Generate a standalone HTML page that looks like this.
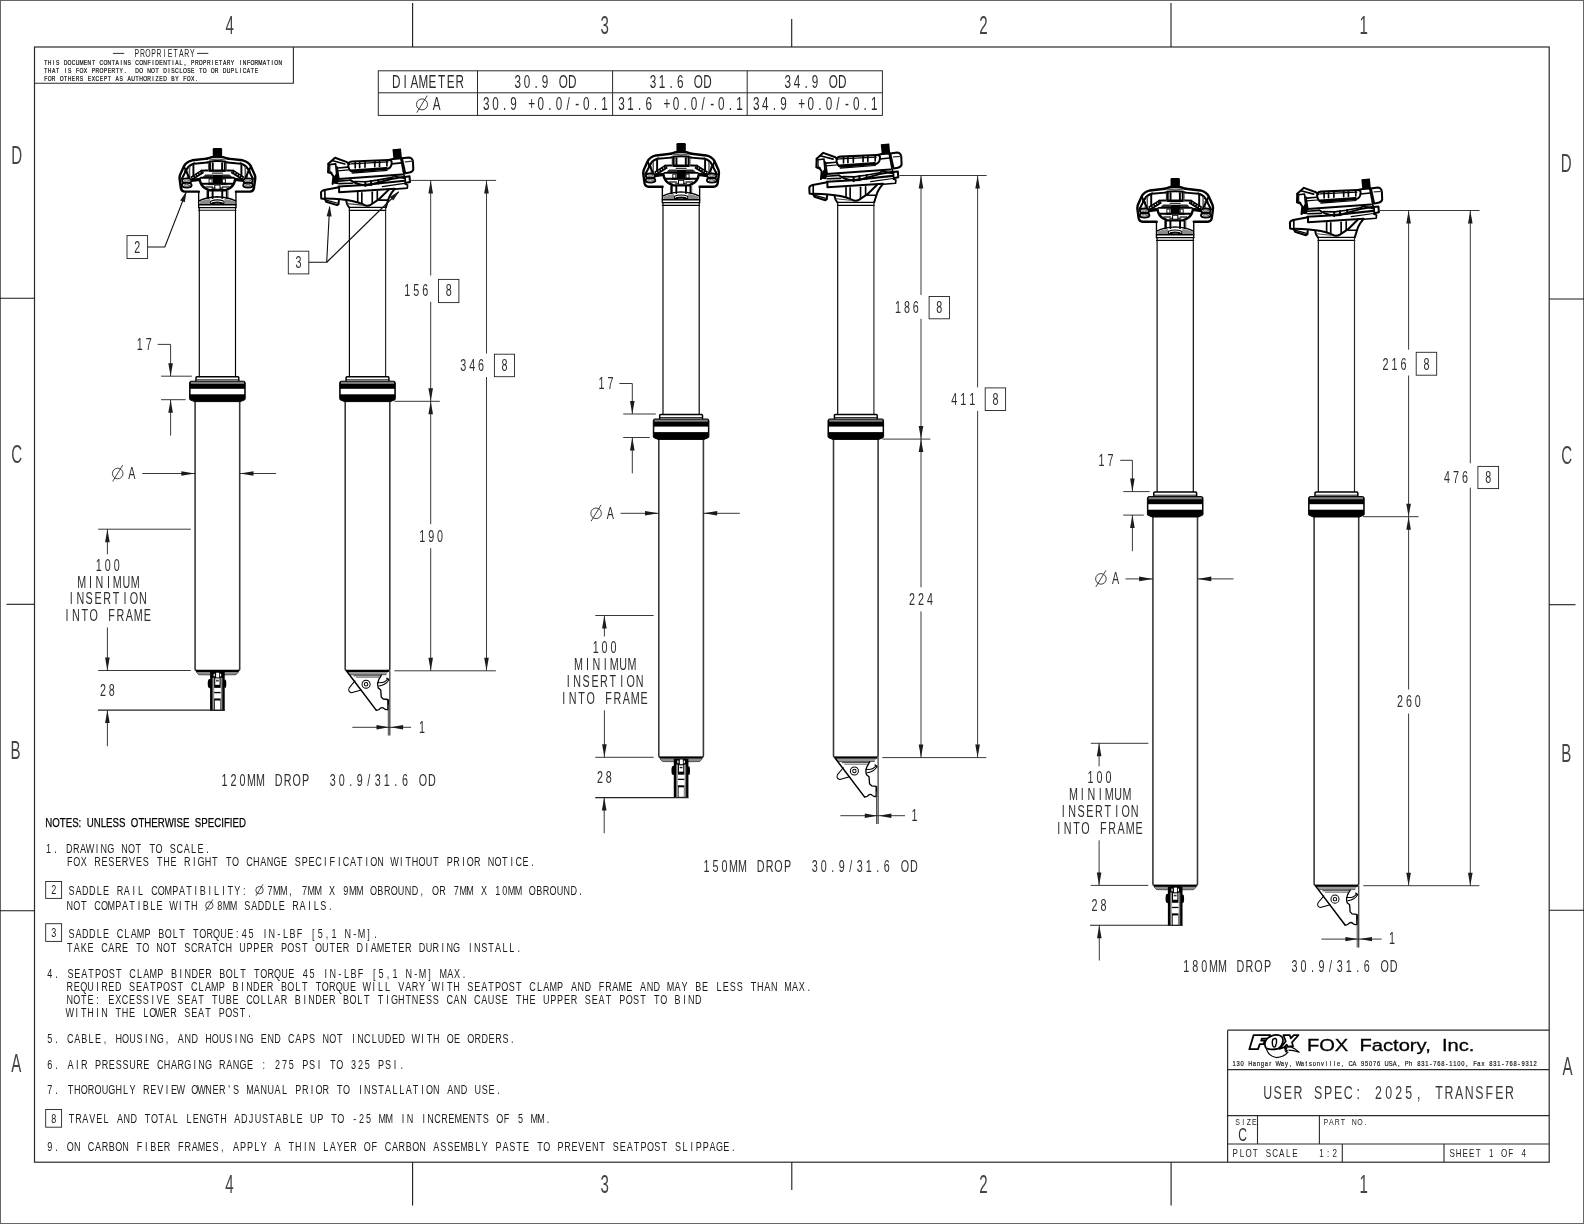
<!DOCTYPE html>
<html><head><meta charset="utf-8"><title>USER SPEC: 2025, TRANSFER</title>
<style>html,body{margin:0;padding:0;background:#fff;}svg{display:block;filter:grayscale(1);}text{font-family:"Liberation Sans",sans-serif;white-space:pre;}</style>
</head><body>
<svg width="1584" height="1224" viewBox="0 0 1584 1224">
<rect x="0" y="0" width="1584" height="1224" fill="#fff"/>
<rect x="0.5" y="0.5" width="1583" height="1223" fill="none" stroke="#666" stroke-width="1"/>
<rect x="34.5" y="47" width="1514.7" height="1115.2" fill="none" stroke="#2a2a2a" stroke-width="1.2"/>
<line x1="412.6" y1="3" x2="412.6" y2="47" stroke="#1a1a1a" stroke-width="1.1"/>
<line x1="791.7" y1="19" x2="791.7" y2="47" stroke="#1a1a1a" stroke-width="1.1"/>
<line x1="1171" y1="3" x2="1171" y2="47" stroke="#1a1a1a" stroke-width="1.1"/>
<line x1="412.6" y1="1162.2" x2="412.6" y2="1205.5" stroke="#1a1a1a" stroke-width="1.1"/>
<line x1="791.8" y1="1162.2" x2="791.8" y2="1190" stroke="#1a1a1a" stroke-width="1.1"/>
<line x1="1171.1" y1="1162.2" x2="1171.1" y2="1205.5" stroke="#1a1a1a" stroke-width="1.1"/>
<line x1="0" y1="298.2" x2="34.5" y2="298.2" stroke="#1a1a1a" stroke-width="1.1"/>
<line x1="6.5" y1="604.3" x2="34.5" y2="604.3" stroke="#1a1a1a" stroke-width="1.1"/>
<line x1="0" y1="910.8" x2="34.5" y2="910.8" stroke="#1a1a1a" stroke-width="1.1"/>
<line x1="1549.2" y1="299" x2="1584" y2="299" stroke="#1a1a1a" stroke-width="1.1"/>
<line x1="1549.2" y1="604.7" x2="1575.5" y2="604.7" stroke="#1a1a1a" stroke-width="1.1"/>
<line x1="1549.2" y1="910.3" x2="1584" y2="910.3" stroke="#1a1a1a" stroke-width="1.1"/>
<text transform="scale(0.6,1)" x="382.67" y="34.2" font-size="25.15" fill="#444" text-anchor="middle">4</text>
<text transform="scale(0.6,1)" x="1007.83" y="34.2" font-size="25.15" fill="#444" text-anchor="middle">3</text>
<text transform="scale(0.6,1)" x="1639.17" y="34.2" font-size="25.15" fill="#444" text-anchor="middle">2</text>
<text transform="scale(0.6,1)" x="2273" y="34.2" font-size="25.15" fill="#444" text-anchor="middle">1</text>
<text transform="scale(0.6,1)" x="382.5" y="1193.3" font-size="25.15" fill="#444" text-anchor="middle">4</text>
<text transform="scale(0.6,1)" x="1007.67" y="1193.3" font-size="25.15" fill="#444" text-anchor="middle">3</text>
<text transform="scale(0.6,1)" x="1639.17" y="1193.3" font-size="25.15" fill="#444" text-anchor="middle">2</text>
<text transform="scale(0.6,1)" x="2272.83" y="1192.8" font-size="25.15" fill="#444" text-anchor="middle">1</text>
<text transform="scale(0.6,1)" x="27.83" y="163.6" font-size="25.15" fill="#444" text-anchor="middle">D</text>
<text transform="scale(0.6,1)" x="27.83" y="463.4" font-size="25.15" fill="#444" text-anchor="middle">C</text>
<text transform="scale(0.6,1)" x="26" y="758.8" font-size="25.15" fill="#444" text-anchor="middle">B</text>
<text transform="scale(0.6,1)" x="27.33" y="1072.1" font-size="25.15" fill="#444" text-anchor="middle">A</text>
<text transform="scale(0.6,1)" x="2610.33" y="171.6" font-size="25.15" fill="#444" text-anchor="middle">D</text>
<text transform="scale(0.6,1)" x="2611.33" y="464.3" font-size="25.15" fill="#444" text-anchor="middle">C</text>
<text transform="scale(0.6,1)" x="2610.67" y="762.4" font-size="25.15" fill="#444" text-anchor="middle">B</text>
<text transform="scale(0.6,1)" x="2612.67" y="1074.6" font-size="25.15" fill="#444" text-anchor="middle">A</text>
<path d="M34.5,83.3 L293.4,83.3 L293.4,47.0" fill="none" stroke="#2a2a2a" stroke-width="1.1"/>
<text transform="scale(0.66,1)" x="207.35 215.76 224.17 232.58 240.98 249.39 257.8 266.21 274.62 283.03 291.44" y="56.8" font-size="10.47" fill="#222" text-anchor="middle">PROPRIETARY</text>
<line x1="112.9" y1="53.4" x2="124.2" y2="53.4" stroke="#1a1a1a" stroke-width="0.9"/>
<line x1="197" y1="53.4" x2="208.3" y2="53.4" stroke="#1a1a1a" stroke-width="0.9"/>
<text transform="scale(0.74,1)" x="61.8 67.17 72.54 77.91 83.29 88.66 94.03 99.4 104.77 110.14 115.51 120.89 126.26 131.63 137 142.37 147.74 153.12 158.49 163.86 169.23 174.6 179.97 185.35 190.72 196.09 201.46 206.83 212.2 217.58 222.95 228.32 233.69 239.06 244.43 249.81 255.18 260.55 265.92 271.29 276.66 282.04 287.41 292.78 298.15 303.52 308.89 314.26 319.64 325.01 330.38 335.75 341.12 346.49 351.87 357.24 362.61 367.98 373.35 378.72" y="64.8" font-size="6.83" fill="#111" text-anchor="middle" stroke="#111" stroke-width="0.25">THIS DOCUMENT CONTAINS CONFIDENTIAL, PROPRIETARY INFORMATION</text>
<text transform="scale(0.74,1)" x="61.8 67.17 72.54 77.91 83.29 88.66 94.03 99.4 104.77 110.14 115.51 120.89 126.26 131.63 137 142.37 147.74 153.12 158.49 163.86 169.23 174.6 179.97 185.35 190.72 196.09 201.46 206.83 212.2 217.58 222.95 228.32 233.69 239.06 244.43 249.81 255.18 260.55 265.92 271.29 276.66 282.04 287.41 292.78 298.15 303.52 308.89 314.26 319.64 325.01 330.38 335.75 341.12 346.49" y="73.3" font-size="6.83" fill="#111" text-anchor="middle" stroke="#111" stroke-width="0.25">THAT IS FOX PROPERTY.  DO NOT DISCLOSE TO OR DUPLICATE</text>
<text transform="scale(0.74,1)" x="61.8 67.17 72.54 77.91 83.29 88.66 94.03 99.4 104.77 110.14 115.51 120.89 126.26 131.63 137 142.37 147.74 153.12 158.49 163.86 169.23 174.6 179.97 185.35 190.72 196.09 201.46 206.83 212.2 217.58 222.95 228.32 233.69 239.06 244.43 249.81 255.18 260.55 265.92" y="81.5" font-size="6.83" fill="#111" text-anchor="middle" stroke="#111" stroke-width="0.25">FOR OTHERS EXCEPT AS AUTHORIZED BY FOX.</text>
<rect x="378.3" y="70.8" width="504.1" height="44.6" fill="none" stroke="#2a2a2a" stroke-width="1"/>
<line x1="378.3" y1="92.8" x2="882.4" y2="92.8" stroke="#2a2a2a" stroke-width="1"/>
<line x1="477.5" y1="70.8" x2="477.5" y2="115.4" stroke="#2a2a2a" stroke-width="1"/>
<line x1="612.6" y1="70.8" x2="612.6" y2="115.4" stroke="#2a2a2a" stroke-width="1"/>
<line x1="747.2" y1="70.8" x2="747.2" y2="115.4" stroke="#2a2a2a" stroke-width="1"/>
<text transform="scale(0.66,1)" x="600.26 614.01 627.77 641.53 655.29 669.04 682.8 696.56" y="87.6" font-size="17.73" fill="#2a2a2a" text-anchor="middle">DIAMETER</text>
<text transform="scale(0.66,1)" x="784.65 798.41 812.16 825.92 839.68 853.44 867.2" y="87.6" font-size="17.73" fill="#2a2a2a" text-anchor="middle">30.9 OD</text>
<text transform="scale(0.66,1)" x="989.35 1003.1 1016.86 1030.62 1044.38 1058.13 1071.89" y="87.6" font-size="17.73" fill="#2a2a2a" text-anchor="middle">31.6 OD</text>
<text transform="scale(0.66,1)" x="1193.74 1207.5 1221.26 1235.01 1248.77 1262.53 1276.29" y="87.6" font-size="17.73" fill="#2a2a2a" text-anchor="middle">34.9 OD</text>
<circle cx="422" cy="104.4" r="5.5" fill="none" stroke="#2a2a2a" stroke-width="0.9"/>
<line x1="416.77" y1="112.65" x2="427.23" y2="95.6" stroke="#2a2a2a" stroke-width="0.9"/>
<text transform="scale(0.66,1)" x="661.47" y="110.4" font-size="17.73" fill="#2a2a2a" text-anchor="middle">A</text>
<text transform="scale(0.66,1)" x="736.92 750.68 764.44 778.2 791.95 805.71 819.47 833.23 846.98 860.74 874.5 888.26 902.01 915.77" y="110.4" font-size="17.73" fill="#2a2a2a" text-anchor="middle">30.9 +0.0/-0.1</text>
<text transform="scale(0.66,1)" x="941.62 955.38 969.13 982.89 996.65 1010.41 1024.16 1037.92 1051.68 1065.44 1079.2 1092.95 1106.71 1120.47" y="110.4" font-size="17.73" fill="#2a2a2a" text-anchor="middle">31.6 +0.0/-0.1</text>
<text transform="scale(0.66,1)" x="1145.86 1159.62 1173.38 1187.13 1200.89 1214.65 1228.41 1242.16 1255.92 1269.68 1283.44 1297.2 1310.95 1324.71" y="110.4" font-size="17.73" fill="#2a2a2a" text-anchor="middle">34.9 +0.0/-0.1</text>
<defs>
<g id="fh" stroke-linecap="round" stroke-linejoin="round">
<g transform="translate(641,138) scale(0.050505)">
<path d="M705,290 L705,125 Q705,100 730,100 L865,100 Q890,100 890,125 L890,290 Z" fill="#000"/>
<path d="M590,312 Q700,268 797,272 Q894,268 1004,312" fill="none" stroke="#000" stroke-width="48"/>
<path d="M600,385 Q797,335 994,385" fill="none" stroke="#000" stroke-width="38"/>
<path d="M640,340 Q797,300 954,340" fill="none" stroke="#555" stroke-width="26"/>
<path d="M590,312 L300,345 Q180,370 130,470 L55,640 Q40,690 55,760 L75,900 Q90,962 150,965 L430,965" fill="none" stroke="#000" stroke-width="48"/>
<path d="M1004,312 L1294,345 Q1414,370 1464,470 L1539,640 Q1554,690 1539,760 L1519,900 Q1504,962 1444,965 L1164,965" fill="none" stroke="#000" stroke-width="48"/>
<path d="M600,388 L335,412 Q235,432 195,510 L105,690" fill="none" stroke="#000" stroke-width="38"/>
<path d="M994,388 L1259,412 Q1359,432 1399,510 L1489,690" fill="none" stroke="#000" stroke-width="38"/>
<path d="M340,395 Q250,450 150,560" fill="none" stroke="#000" stroke-width="26"/>
<path d="M1254,395 Q1344,450 1444,560" fill="none" stroke="#000" stroke-width="26"/>
<path d="M245,480 L245,690" fill="none" stroke="#555" stroke-width="30"/>
<path d="M1349,480 L1349,690" fill="none" stroke="#555" stroke-width="30"/>
<path d="M205,560 L205,690" fill="none" stroke="#666" stroke-width="26"/>
<path d="M1389,560 L1389,690" fill="none" stroke="#666" stroke-width="26"/>
<path d="M322,440 L322,690" fill="none" stroke="#000" stroke-width="38"/>
<path d="M1272,440 L1272,690" fill="none" stroke="#000" stroke-width="38"/>
<path d="M135,470 L245,700" fill="none" stroke="#000" stroke-width="38"/>
<path d="M1459,470 L1349,700" fill="none" stroke="#000" stroke-width="38"/>
<path d="M205,500 L80,720" fill="none" stroke="#000" stroke-width="26"/>
<path d="M1389,500 L1514,720" fill="none" stroke="#000" stroke-width="26"/>
<ellipse cx="190" cy="748" rx="92" ry="46" fill="#fff" stroke="#000" stroke-width="38"/>
<ellipse cx="190" cy="838" rx="96" ry="46" fill="#fff" stroke="#000" stroke-width="38"/>
<ellipse cx="190" cy="748" rx="52" ry="16" fill="none" stroke="#444" stroke-width="16"/>
<ellipse cx="190" cy="838" rx="56" ry="16" fill="none" stroke="#444" stroke-width="16"/>
<ellipse cx="1404" cy="748" rx="92" ry="46" fill="#fff" stroke="#000" stroke-width="38"/>
<ellipse cx="1404" cy="838" rx="96" ry="46" fill="#fff" stroke="#000" stroke-width="38"/>
<ellipse cx="1404" cy="748" rx="52" ry="16" fill="none" stroke="#444" stroke-width="16"/>
<ellipse cx="1404" cy="838" rx="56" ry="16" fill="none" stroke="#444" stroke-width="16"/>
<path d="M500,680 L560,625 L705,625 L705,680 Z" fill="#2a2a2a"/>
<path d="M1094,680 L1034,625 L889,625 L889,680 Z" fill="#2a2a2a"/>
<rect x="560" y="850" width="150" height="42" fill="#666"/>
<rect x="885" y="850" width="150" height="42" fill="#666"/>
<path d="M285,705 L510,562" fill="none" stroke="#000" stroke-width="86" stroke-linecap="butt"/>
<path d="M1309,705 L1084,562" fill="none" stroke="#000" stroke-width="86" stroke-linecap="butt"/>
<path d="M305,688 L500,565" fill="none" stroke="#fff" stroke-width="20" stroke-dasharray="22 32" stroke-linecap="butt"/>
<path d="M1289,688 L1094,565" fill="none" stroke="#fff" stroke-width="20" stroke-dasharray="22 32" stroke-linecap="butt"/>
<path d="M480,550 Q520,545 560,545 L1034,545 Q1074,545 1114,550" fill="none" stroke="#000" stroke-width="38"/>
<path d="M275,742 L460,722" fill="none" stroke="#000" stroke-width="66" stroke-linecap="butt"/>
<path d="M1319,742 L1134,722" fill="none" stroke="#000" stroke-width="66" stroke-linecap="butt"/>
<path d="M445,715 Q465,850 560,900 L640,938 L954,938 L1034,900 Q1129,850 1149,715" fill="none" stroke="#000" stroke-width="48"/>
<path d="M470,690 L1124,690" fill="none" stroke="#000" stroke-width="38"/>
<path d="M700,630 L895,630 L885,800 L712,800 Z" fill="#000"/>
<rect x="640" y="715" width="52" height="80" fill="#fff" stroke="#000" stroke-width="18"/>
<rect x="903" y="715" width="52" height="80" fill="#fff" stroke="#000" stroke-width="18"/>
<path d="M475,808 L1120,808" fill="none" stroke="#000" stroke-width="38"/>
<path d="M620,812 L720,812" fill="none" stroke="#000" stroke-width="30"/>
<path d="M875,812 L975,812" fill="none" stroke="#000" stroke-width="30"/>
<rect x="745" y="835" width="105" height="82" fill="#fff" stroke="#000" stroke-width="20"/>
<path d="M690,895 L745,895" fill="none" stroke="#000" stroke-width="22"/>
<path d="M850,895 L905,895" fill="none" stroke="#000" stroke-width="22"/>
<path d="M625,400 L625,545" fill="none" stroke="#444" stroke-width="26"/>
<path d="M650,400 L650,545" fill="none" stroke="#000" stroke-width="38"/>
<path d="M705,400 L705,545" fill="none" stroke="#000" stroke-width="38"/>
<path d="M890,400 L890,545" fill="none" stroke="#000" stroke-width="38"/>
<path d="M945,400 L945,545" fill="none" stroke="#000" stroke-width="38"/>
<path d="M970,400 L970,545" fill="none" stroke="#444" stroke-width="26"/>
<path d="M650,560 L945,560" fill="none" stroke="#000" stroke-width="26"/>
<path d="M700,600 L895,600" fill="none" stroke="#333" stroke-width="26"/>
<path d="M590,945 L590,1090" fill="none" stroke="#666" stroke-width="26"/>
<path d="M612,945 L612,1090" fill="none" stroke="#000" stroke-width="38"/>
<path d="M702,945 L702,1090" fill="none" stroke="#000" stroke-width="38"/>
<path d="M893,945 L893,1090" fill="none" stroke="#000" stroke-width="38"/>
<path d="M983,945 L983,1090" fill="none" stroke="#000" stroke-width="38"/>
<path d="M1005,945 L1005,1090" fill="none" stroke="#666" stroke-width="26"/>
</g>
<g transform="translate(621,130) scale(0.0757576)">
<path d="M548,755 L548,960" fill="none" stroke="#000" stroke-width="18"/>
<path d="M1040,755 L1040,960" fill="none" stroke="#000" stroke-width="18"/>
<path d="M552,872 Q650,822 794,816 Q938,822 1036,872" fill="none" stroke="#000" stroke-width="18"/>
<path d="M560,880 Q640,850 700,845 L700,915 L560,915 Z" fill="#8a8a8a"/>
<path d="M1028,880 Q948,850 888,845 L888,915 L1028,915 Z" fill="#8a8a8a"/>
<path d="M706,905 L706,875 Q794,840 882,875 L882,905 Z" fill="#fff" stroke="#000" stroke-width="14"/>
<ellipse cx="794" cy="898" rx="72" ry="20" fill="#000"/>
<ellipse cx="794" cy="901" rx="40" ry="7" fill="#555"/>
<path d="M548,922 L1040,922" fill="none" stroke="#000" stroke-width="20"/>
<path d="M548,960 L1040,960" fill="none" stroke="#000" stroke-width="16"/>
<path d="M548,995 L1040,995" fill="none" stroke="#000" stroke-width="14"/>
</g>
</g>
<g id="sh" stroke-linecap="round" stroke-linejoin="round">
<g transform="translate(805,138) scale(0.0631313)">
<path d="M1200,100 L1335,88 L1350,245 L1215,255 Z" fill="#000"/>
<path d="M185,330 L290,235 L470,300 L520,335" fill="none" stroke="#000" stroke-width="32"/>
<path d="M240,280 L445,335" fill="none" stroke="#000" stroke-width="26"/>
<path d="M185,330 L180,465 L232,482 L265,530 L252,650" fill="none" stroke="#000" stroke-width="32"/>
<path d="M207,345 L300,332 L322,560" fill="none" stroke="#000" stroke-width="26"/>
<path d="M207,345 L207,452 L240,470" fill="none" stroke="#000" stroke-width="19"/>
<path d="M255,565 L318,470 L347,520 L352,600 L332,655 L258,645 Z" fill="#000"/>
<path d="M500,365 Q490,300 560,295 L1140,270 Q1197,268 1187,330 Q1177,400 1120,410 L590,456 Q515,462 500,365 Z" fill="none" stroke="#000" stroke-width="32"/>
<path d="M545,332 L1130,302" fill="none" stroke="#000" stroke-width="19"/>
<path d="M610,304 L610,396" fill="none" stroke="#000" stroke-width="26"/>
<path d="M680,300 L680,392" fill="none" stroke="#000" stroke-width="26"/>
<path d="M765,296 L765,386" fill="none" stroke="#000" stroke-width="26"/>
<path d="M920,290 L920,376" fill="none" stroke="#000" stroke-width="26"/>
<path d="M995,286 L995,372" fill="none" stroke="#000" stroke-width="26"/>
<path d="M1112,284 L1112,366" fill="none" stroke="#000" stroke-width="26"/>
<path d="M540,438 L1105,398" fill="none" stroke="#000" stroke-width="34"/>
<path d="M560,478 L1115,436" fill="none" stroke="#000" stroke-width="19"/>
<path d="M1140,270 L1205,256" fill="none" stroke="#000" stroke-width="32"/>
<path d="M1215,255 L1350,245 L1462,230 Q1520,238 1525,300 L1530,420 Q1522,460 1470,470 L1405,482" fill="none" stroke="#000" stroke-width="32"/>
<path d="M1350,245 L1402,480" fill="none" stroke="#000" stroke-width="32"/>
<path d="M1335,255 L1385,525" fill="none" stroke="#000" stroke-width="26"/>
<path d="M1187,332 L1342,316" fill="none" stroke="#000" stroke-width="26"/>
<path d="M1402,300 L1522,290" fill="none" stroke="#333" stroke-width="19"/>
<path d="M345,572 L1352,500" fill="none" stroke="#000" stroke-width="32"/>
<path d="M322,380 L352,572" fill="none" stroke="#000" stroke-width="26"/>
<path d="M335,398 L490,384" fill="none" stroke="#000" stroke-width="26"/>
<path d="M330,442 L505,428" fill="none" stroke="#000" stroke-width="19"/>
<path d="M1200,520 L1385,560" fill="none" stroke="#000" stroke-width="26"/>
<path d="M350,606 L525,592" fill="none" stroke="#000" stroke-width="26"/>
<path d="M535,590 Q690,702 880,656 L1180,572 L1392,536" fill="none" stroke="#000" stroke-width="32"/>
<path d="M600,612 L780,616 L960,590 L1205,546" fill="none" stroke="#000" stroke-width="26"/>
<path d="M770,616 L770,684" fill="none" stroke="#000" stroke-width="32"/>
<path d="M862,604 L862,668" fill="none" stroke="#000" stroke-width="32"/>
<path d="M975,588 L975,644" fill="none" stroke="#000" stroke-width="32"/>
<path d="M350,646 L565,640" fill="none" stroke="#000" stroke-width="26"/>
<path d="M345,692 L700,672 L1392,600" fill="none" stroke="#000" stroke-width="32"/>
<path d="M355,700 L355,780 L1235,726" fill="none" stroke="#000" stroke-width="32"/>
<path d="M1040,692 L1392,642" fill="none" stroke="#000" stroke-width="19"/>
<path d="M1392,540 L1470,530 L1478,620 L1402,636" fill="none" stroke="#000" stroke-width="32"/>
<path d="M1400,540 L1408,652" fill="none" stroke="#000" stroke-width="26"/>
<path d="M1402,652 L1440,666 L1435,716 L1240,732" fill="none" stroke="#000" stroke-width="26"/>
<path d="M335,705 L120,745 Q70,760 68,790 L72,880 L130,890" fill="none" stroke="#000" stroke-width="32"/>
<path d="M130,752 L130,890" fill="none" stroke="#000" stroke-width="26"/>
<path d="M130,890 L150,932 L322,986 L346,970 L350,916" fill="none" stroke="#000" stroke-width="32"/>
<path d="M150,906 L332,956" fill="none" stroke="#000" stroke-width="19"/>
<path d="M130,882 Q400,890 560,920 Q660,940 740,976 Q800,1012 860,976 L990,890 L1142,740" fill="none" stroke="#000" stroke-width="32"/>
<path d="M650,786 L650,936" fill="none" stroke="#000" stroke-width="26"/>
<path d="M715,790 L715,962" fill="none" stroke="#000" stroke-width="26"/>
<path d="M880,780 L880,958" fill="none" stroke="#000" stroke-width="26"/>
<path d="M960,772 L960,895" fill="none" stroke="#000" stroke-width="26"/>
<path d="M1232,732 Q1150,830 1130,910 Q1112,965 1095,1022" fill="none" stroke="#000" stroke-width="32"/>
<path d="M990,906 L1130,906" fill="none" stroke="#000" stroke-width="26"/>
<path d="M470,930 Q480,992 515,1022" fill="none" stroke="#000" stroke-width="32"/>
<path d="M490,962 L720,986" fill="none" stroke="#444" stroke-width="19"/>
<path d="M515,1020 L1095,1020" fill="none" stroke="#000" stroke-width="20"/>
<path d="M515,1068 L1095,1068" fill="none" stroke="#000" stroke-width="18"/>
</g>
</g>
<g id="col">
<path d="M-21.4,5 L-21.4,1.3 Q-21.4,0.3 -20.4,0.3 L20.4,0.3 Q21.4,0.3 21.4,1.3 L21.4,5" fill="#fff" stroke="#000" stroke-width="1.5"/>
<line x1="-21" y1="3.4" x2="21" y2="3.4" stroke="#000" stroke-width="0.9"/>
<path d="M-27.8,6.5 Q-27.8,4.8 -26.3,4.8 L26.3,4.8 Q27.8,4.8 27.8,6.5 L27.8,22.4 Q27.8,23.6 26.6,23.7 L23,25.2 L-23,25.2 L-26.6,23.7 Q-27.8,23.6 -27.8,22.4 Z" fill="#000" stroke="#000" stroke-width="1.0"/>
<rect x="-26.6" y="5.4" width="53.2" height="2.1" fill="#808080"/>
<rect x="-26.8" y="12.4" width="53.6" height="5.5" fill="#fff"/>
</g>
<g id="af"><g transform="scale(0.050505) translate(-800,-310)">
<path d="M385,335 L690,335 L690,392 L432,388 Z" fill="#8c8c8c"/>
<path d="M1215,335 L910,335 L910,392 L1168,388 Z" fill="#8c8c8c"/>
<path d="M380,335 L432,390 L690,394" fill="none" stroke="#222" stroke-width="14"/>
<path d="M1220,335 L1168,390 L910,394" fill="none" stroke="#222" stroke-width="14"/>
<rect x="655" y="335" width="290" height="770" fill="#000"/>
<rect x="700" y="450" width="24" height="645" fill="#777"/>
<rect x="876" y="450" width="24" height="645" fill="#777"/>
<rect x="724" y="450" width="11" height="645" fill="#fff"/>
<rect x="865" y="450" width="11" height="645" fill="#fff"/>
<rect x="775" y="350" width="60" height="92" fill="#fff"/>
<ellipse cx="737" cy="395" rx="13" ry="32" fill="#fff"/>
<ellipse cx="863" cy="395" rx="13" ry="32" fill="#fff"/>
<rect x="757" y="462" width="86" height="128" fill="#fff"/>
<rect x="772" y="500" width="56" height="22" fill="#000"/>
<rect x="772" y="462" width="56" height="22" fill="#999"/>
<rect x="735" y="650" width="135" height="80" fill="#fff"/>
<rect x="735" y="756" width="135" height="104" fill="#fff"/>
<rect x="750" y="900" width="105" height="188" fill="#fff"/>
<ellipse cx="645" cy="565" rx="36" ry="92" fill="#000"/>
<ellipse cx="952" cy="570" rx="24" ry="86" fill="#000"/>
</g></g>
<g id="as" stroke-linecap="round" stroke-linejoin="round"><g transform="scale(0.050505) translate(-738,-310)">
<path d="M330,335 L1145,335 L1105,388 L395,388 Z" fill="#999"/>
<path d="M395,390 L1105,390" fill="none" stroke="#333" stroke-width="14"/>
<path d="M470,412 L992,412" fill="none" stroke="#000" stroke-width="16"/>
<path d="M520,442 L962,442" fill="none" stroke="#777" stroke-width="20"/>
<path d="M335,330 L910,1090" fill="none" stroke="#000" stroke-width="30"/>
<path d="M910,1090 Q960,1098 990,1055 Q1030,1025 1065,1060 Q1100,1092 1140,1078" fill="none" stroke="#000" stroke-width="26"/>
<rect x="1128" y="880" width="36" height="212" fill="#000"/>
<path d="M1140,880 L1050,870 L1010,830 L1000,690 L950,650 Q922,570 960,490 L1012,398" fill="none" stroke="#000" stroke-width="26"/>
<circle cx="710" cy="578" r="80" fill="none" stroke="#000" stroke-width="20"/>
<circle cx="710" cy="578" r="34" fill="none" stroke="#000" stroke-width="20"/>
<path d="M490,512 L375,650 Q345,725 420,745 L615,690" fill="none" stroke="#000" stroke-width="20"/>
<path d="M940,545 Q1085,562 1140,470" fill="none" stroke="#000" stroke-width="20"/>
<path d="M965,612 Q1100,592 1157,492" fill="none" stroke="#000" stroke-width="20"/>
<path d="M1120,458 L1162,490" fill="none" stroke="#000" stroke-width="26"/>
</g></g>
</defs>
<use href="#fh" x="-463.85" y="4.9"/>
<use href="#sh" x="-488.3" y="4.9"/>
<line x1="199.3" y1="207.4" x2="199.3" y2="376.9" stroke="#000" stroke-width="1.15"/>
<line x1="235.5" y1="207.4" x2="235.5" y2="376.9" stroke="#000" stroke-width="1.15"/>
<path d="M195.1,400.9 L195.1,668.7 Q195.1,670.7 197.1,670.7 L237.7,670.7 Q239.7,670.7 239.7,668.7 L239.7,400.9" fill="none" stroke="#3a3a3a" stroke-width="1.6"/>
<line x1="196.1" y1="670.9" x2="238.7" y2="670.9" stroke="#000" stroke-width="2.2"/>
<use href="#col" x="217.4" y="376.4"/>
<use href="#af" x="217.4" y="670.7"/>
<line x1="349.4" y1="207.4" x2="349.4" y2="376.9" stroke="#000" stroke-width="1.15"/>
<line x1="385.6" y1="207.4" x2="385.6" y2="376.9" stroke="#222" stroke-width="1.15"/>
<path d="M345.2,400.9 L345.2,668.7 Q345.2,670.7 347.2,670.7 L387.8,670.7 Q389.8,670.7 389.8,668.7 L389.8,400.9" fill="none" stroke="#3a3a3a" stroke-width="1.6"/>
<line x1="346.2" y1="670.9" x2="388.8" y2="670.9" stroke="#000" stroke-width="2.2"/>
<use href="#col" x="367.5" y="376.4"/>
<use href="#as" x="367.5" y="670.7"/>
<text transform="scale(0.66,1)" x="211.8 225.33" y="350.5" font-size="16.28" fill="#2e2e2e" text-anchor="middle">17</text>
<path d="M157.7,344.4 L170.6,344.4 L170.6,376.2" fill="none" stroke="#222" stroke-width="0.9"/>
<polygon points="170.6,376.2 168.3,363.2 172.9,363.2" fill="#1a1a1a" stroke="none" stroke-width="0"/>
<line x1="161.1" y1="376.2" x2="191.9" y2="376.2" stroke="#222" stroke-width="0.9"/>
<line x1="161.1" y1="399.7" x2="185.6" y2="399.7" stroke="#222" stroke-width="0.9"/>
<polygon points="170.6,399.7 168.3,412.7 172.9,412.7" fill="#1a1a1a" stroke="none" stroke-width="0"/>
<line x1="170.6" y1="399.7" x2="170.6" y2="435.6" stroke="#222" stroke-width="0.9"/>
<circle cx="117.7" cy="473.5" r="5.3" fill="none" stroke="#2e2e2e" stroke-width="0.9"/>
<line x1="112.67" y1="481.45" x2="122.73" y2="465.02" stroke="#2e2e2e" stroke-width="0.9"/>
<text transform="scale(0.66,1)" x="199.72" y="478.9" font-size="16.28" fill="#2e2e2e" text-anchor="middle">A</text>
<line x1="142.3" y1="473.5" x2="195.1" y2="473.5" stroke="#222" stroke-width="0.9"/>
<polygon points="194.8,473.5 181.3,471.2 181.3,475.8" fill="#1a1a1a" stroke="none" stroke-width="0"/>
<line x1="239.7" y1="473.5" x2="276" y2="473.5" stroke="#222" stroke-width="0.9"/>
<polygon points="240,473.5 253.5,471.2 253.5,475.8" fill="#1a1a1a" stroke="none" stroke-width="0"/>
<line x1="98.2" y1="529.2" x2="190.8" y2="529.2" stroke="#222" stroke-width="0.9"/>
<line x1="98.2" y1="670.5" x2="190.8" y2="670.5" stroke="#222" stroke-width="0.9"/>
<polygon points="107.4,529.2 105.1,542.2 109.7,542.2" fill="#1a1a1a" stroke="none" stroke-width="0"/>
<line x1="107.4" y1="529.2" x2="107.4" y2="554.2" stroke="#222" stroke-width="0.9"/>
<polygon points="107.4,670.5 105.1,657.5 109.7,657.5" fill="#1a1a1a" stroke="none" stroke-width="0"/>
<line x1="107.4" y1="627.5" x2="107.4" y2="670.5" stroke="#222" stroke-width="0.9"/>
<text transform="scale(0.66,1)" x="149.63 163.16 176.69" y="571.2" font-size="16.28" fill="#2e2e2e" text-anchor="middle">100</text>
<text transform="scale(0.66,1)" x="123.65 137.18 150.71 164.24 177.77 191.3 204.83" y="587.9" font-size="16.28" fill="#2e2e2e" text-anchor="middle">MINIMUM</text>
<text transform="scale(0.66,1)" x="108.09 121.62 135.15 148.68 162.21 175.74 189.27 202.8 216.33" y="604.5" font-size="16.28" fill="#2e2e2e" text-anchor="middle">INSERTION</text>
<text transform="scale(0.66,1)" x="101.33 114.86 128.39 141.92 155.45 168.98 182.51 196.04 209.57 223.1" y="621.2" font-size="16.28" fill="#2e2e2e" text-anchor="middle">INTO FRAME</text>
<text transform="scale(0.66,1)" x="155.93 169.46" y="696.5" font-size="16.28" fill="#2e2e2e" text-anchor="middle">28</text>
<line x1="98" y1="710.1" x2="224.8" y2="710.1" stroke="#222" stroke-width="1.1"/>
<polygon points="107.4,710.1 105.1,723.1 109.7,723.1" fill="#1a1a1a" stroke="none" stroke-width="0"/>
<line x1="107.4" y1="710.1" x2="107.4" y2="746.2" stroke="#222" stroke-width="0.9"/>
<line x1="409.2" y1="180.4" x2="496.1" y2="180.4" stroke="#222" stroke-width="0.9"/>
<line x1="394.4" y1="401.3" x2="439.8" y2="401.3" stroke="#222" stroke-width="0.9"/>
<line x1="394.4" y1="670.8" x2="495.9" y2="670.8" stroke="#222" stroke-width="0.9"/>
<polygon points="430.7,180.4 428.4,193.4 433,193.4" fill="#1a1a1a" stroke="none" stroke-width="0"/>
<polygon points="430.7,401.3 428.4,388.3 433,388.3" fill="#1a1a1a" stroke="none" stroke-width="0"/>
<polygon points="430.7,401.3 428.4,414.3 433,414.3" fill="#1a1a1a" stroke="none" stroke-width="0"/>
<polygon points="430.7,670.8 428.4,657.8 433,657.8" fill="#1a1a1a" stroke="none" stroke-width="0"/>
<line x1="430.7" y1="180.4" x2="430.7" y2="275.5" stroke="#222" stroke-width="0.9"/>
<line x1="430.7" y1="301.8" x2="430.7" y2="401.3" stroke="#222" stroke-width="0.9"/>
<line x1="430.7" y1="401.3" x2="430.7" y2="524.2" stroke="#222" stroke-width="0.9"/>
<line x1="430.7" y1="548.2" x2="430.7" y2="670.7" stroke="#222" stroke-width="0.9"/>
<polygon points="486.5,180.4 484.2,193.4 488.8,193.4" fill="#1a1a1a" stroke="none" stroke-width="0"/>
<polygon points="486.5,670.8 484.2,657.8 488.8,657.8" fill="#1a1a1a" stroke="none" stroke-width="0"/>
<line x1="486.5" y1="180.4" x2="486.5" y2="353.5" stroke="#222" stroke-width="0.9"/>
<line x1="486.5" y1="377" x2="486.5" y2="670.7" stroke="#222" stroke-width="0.9"/>
<text transform="scale(0.66,1)" x="617.1 630.63 644.16" y="296.5" font-size="16.28" fill="#2e2e2e" text-anchor="middle">156</text>
<rect x="438.5" y="279.4" width="20.4" height="23.2" fill="none" stroke="#222" stroke-width="0.9"/>
<text transform="scale(0.66,1)" x="679.85" y="296.5" font-size="16.28" fill="#2e2e2e" text-anchor="middle">8</text>
<text transform="scale(0.66,1)" x="701.84 715.37 728.9" y="371.2" font-size="16.28" fill="#2e2e2e" text-anchor="middle">346</text>
<rect x="494.4" y="354.2" width="20.1" height="22.5" fill="none" stroke="#222" stroke-width="0.9"/>
<text transform="scale(0.66,1)" x="764.32" y="371.2" font-size="16.28" fill="#2e2e2e" text-anchor="middle">8</text>
<text transform="scale(0.66,1)" x="639.78 653.31 666.84" y="541.7" font-size="16.28" fill="#2e2e2e" text-anchor="middle">190</text>
<line x1="389.8" y1="670.7" x2="389.8" y2="735.6" stroke="#444" stroke-width="1.3"/>
<line x1="388.3" y1="704.7" x2="388.3" y2="735.6" stroke="#444" stroke-width="1"/>
<line x1="352.3" y1="727.3" x2="411.1" y2="727.3" stroke="#222" stroke-width="0.9"/>
<polygon points="389,727.3 376.5,725.1 376.5,729.5" fill="#1a1a1a" stroke="none" stroke-width="0"/>
<polygon points="390.6,727.3 403.1,725.1 403.1,729.5" fill="#1a1a1a" stroke="none" stroke-width="0"/>
<text transform="scale(0.66,1)" x="639.24" y="732.8" font-size="16.28" fill="#2e2e2e" text-anchor="middle">1</text>
<text transform="scale(0.66,1)" x="340.16 353.82 367.49 381.16 394.82 408.49 422.16 435.82 449.49 463.16 476.82 490.49 504.16 517.82 531.49 545.16 558.82 572.49 586.16 599.82 613.49 627.16 640.82 654.49" y="786.1" font-size="16.28" fill="#2e2e2e" text-anchor="middle">120MM DROP  30.9/31.6 OD</text>
<use href="#fh" x="-0.15" y="0"/>
<use href="#sh" x="0" y="0"/>
<line x1="663" y1="202.5" x2="663" y2="414.7" stroke="#000" stroke-width="1.15"/>
<line x1="699.2" y1="202.5" x2="699.2" y2="414.7" stroke="#000" stroke-width="1.15"/>
<path d="M658.8,438.7 L658.8,755.5 Q658.8,757.5 660.8,757.5 L701.4,757.5 Q703.4,757.5 703.4,755.5 L703.4,438.7" fill="none" stroke="#3a3a3a" stroke-width="1.6"/>
<line x1="659.8" y1="757.7" x2="702.4" y2="757.7" stroke="#000" stroke-width="2.2"/>
<use href="#col" x="681.1" y="414.2"/>
<use href="#af" x="681.1" y="757.5"/>
<line x1="837.7" y1="202.5" x2="837.7" y2="414.7" stroke="#000" stroke-width="1.15"/>
<line x1="873.9" y1="202.5" x2="873.9" y2="414.7" stroke="#222" stroke-width="1.15"/>
<path d="M833.5,438.7 L833.5,755.5 Q833.5,757.5 835.5,757.5 L876.1,757.5 Q878.1,757.5 878.1,755.5 L878.1,438.7" fill="none" stroke="#3a3a3a" stroke-width="1.6"/>
<line x1="834.5" y1="757.7" x2="877.1" y2="757.7" stroke="#000" stroke-width="2.2"/>
<use href="#col" x="855.8" y="414.2"/>
<use href="#as" x="855.8" y="757.5"/>
<text transform="scale(0.66,1)" x="911.34 924.87" y="389.5" font-size="16.28" fill="#2e2e2e" text-anchor="middle">17</text>
<path d="M619.4,383.5 L632.3,383.5 L632.3,414" fill="none" stroke="#222" stroke-width="0.9"/>
<polygon points="632.3,414 630,401 634.6,401" fill="#1a1a1a" stroke="none" stroke-width="0"/>
<line x1="623.2" y1="414" x2="655.8" y2="414" stroke="#222" stroke-width="0.9"/>
<line x1="623.2" y1="437.5" x2="649.7" y2="437.5" stroke="#222" stroke-width="0.9"/>
<polygon points="632.3,437.5 630,450.5 634.6,450.5" fill="#1a1a1a" stroke="none" stroke-width="0"/>
<line x1="632.3" y1="437.5" x2="632.3" y2="473.3" stroke="#222" stroke-width="0.9"/>
<circle cx="596.1" cy="513.3" r="5.3" fill="none" stroke="#2e2e2e" stroke-width="0.9"/>
<line x1="591.07" y1="521.25" x2="601.13" y2="504.82" stroke="#2e2e2e" stroke-width="0.9"/>
<text transform="scale(0.66,1)" x="924.57" y="518.7" font-size="16.28" fill="#2e2e2e" text-anchor="middle">A</text>
<line x1="620.6" y1="513.3" x2="658.8" y2="513.3" stroke="#222" stroke-width="0.9"/>
<polygon points="658.5,513.3 645,511 645,515.6" fill="#1a1a1a" stroke="none" stroke-width="0"/>
<line x1="703.4" y1="513.3" x2="739.8" y2="513.3" stroke="#222" stroke-width="0.9"/>
<polygon points="703.7,513.3 717.2,511 717.2,515.6" fill="#1a1a1a" stroke="none" stroke-width="0"/>
<line x1="595.3" y1="615.5" x2="653.6" y2="615.5" stroke="#222" stroke-width="0.9"/>
<line x1="595.3" y1="757.3" x2="653.6" y2="757.3" stroke="#222" stroke-width="0.9"/>
<polygon points="604.4,615.5 602.1,628.5 606.7,628.5" fill="#1a1a1a" stroke="none" stroke-width="0"/>
<line x1="604.4" y1="615.5" x2="604.4" y2="636.4" stroke="#222" stroke-width="0.9"/>
<polygon points="604.4,757.3 602.1,744.3 606.7,744.3" fill="#1a1a1a" stroke="none" stroke-width="0"/>
<line x1="604.4" y1="710.3" x2="604.4" y2="757.3" stroke="#222" stroke-width="0.9"/>
<text transform="scale(0.66,1)" x="902.51 916.04 929.57" y="653.3" font-size="16.28" fill="#2e2e2e" text-anchor="middle">100</text>
<text transform="scale(0.66,1)" x="876.53 890.06 903.59 917.12 930.65 944.18 957.71" y="670" font-size="16.28" fill="#2e2e2e" text-anchor="middle">MINIMUM</text>
<text transform="scale(0.66,1)" x="860.97 874.5 888.03 901.56 915.09 928.62 942.15 955.68 969.21" y="687.1" font-size="16.28" fill="#2e2e2e" text-anchor="middle">INSERTION</text>
<text transform="scale(0.66,1)" x="854.21 867.74 881.27 894.8 908.33 921.86 935.39 948.92 962.45 975.98" y="704.2" font-size="16.28" fill="#2e2e2e" text-anchor="middle">INTO FRAME</text>
<text transform="scale(0.66,1)" x="908.96 922.49" y="783.5" font-size="16.28" fill="#2e2e2e" text-anchor="middle">28</text>
<line x1="595.2" y1="797.6" x2="688.5" y2="797.6" stroke="#222" stroke-width="1.1"/>
<polygon points="604.2,797.6 601.9,810.6 606.5,810.6" fill="#1a1a1a" stroke="none" stroke-width="0"/>
<line x1="604.2" y1="797.6" x2="604.2" y2="833.2" stroke="#222" stroke-width="0.9"/>
<line x1="899.5" y1="175.5" x2="986.6" y2="175.5" stroke="#222" stroke-width="0.9"/>
<line x1="882.4" y1="439.1" x2="930.3" y2="439.1" stroke="#222" stroke-width="0.9"/>
<line x1="882.3" y1="757.6" x2="986.4" y2="757.6" stroke="#222" stroke-width="0.9"/>
<polygon points="921,175.5 918.7,188.5 923.3,188.5" fill="#1a1a1a" stroke="none" stroke-width="0"/>
<polygon points="921,439.1 918.7,426.1 923.3,426.1" fill="#1a1a1a" stroke="none" stroke-width="0"/>
<polygon points="921,439.1 918.7,452.1 923.3,452.1" fill="#1a1a1a" stroke="none" stroke-width="0"/>
<polygon points="921,757.6 918.7,744.6 923.3,744.6" fill="#1a1a1a" stroke="none" stroke-width="0"/>
<line x1="921" y1="175.5" x2="921" y2="295" stroke="#222" stroke-width="0.9"/>
<line x1="921" y1="318.8" x2="921" y2="439.1" stroke="#222" stroke-width="0.9"/>
<line x1="921" y1="439.1" x2="921" y2="587.3" stroke="#222" stroke-width="0.9"/>
<line x1="921" y1="611.4" x2="921" y2="757.5" stroke="#222" stroke-width="0.9"/>
<polygon points="977.6,175.5 975.3,188.5 979.9,188.5" fill="#1a1a1a" stroke="none" stroke-width="0"/>
<polygon points="977.6,757.6 975.3,744.6 979.9,744.6" fill="#1a1a1a" stroke="none" stroke-width="0"/>
<line x1="977.6" y1="175.5" x2="977.6" y2="387.4" stroke="#222" stroke-width="0.9"/>
<line x1="977.6" y1="410.9" x2="977.6" y2="757.5" stroke="#222" stroke-width="0.9"/>
<text transform="scale(0.66,1)" x="1360.58 1374.12 1387.65" y="313.5" font-size="16.28" fill="#2e2e2e" text-anchor="middle">186</text>
<rect x="929.1" y="296.5" width="20.4" height="22.3" fill="none" stroke="#222" stroke-width="0.9"/>
<text transform="scale(0.66,1)" x="1423.18" y="313.5" font-size="16.28" fill="#2e2e2e" text-anchor="middle">8</text>
<text transform="scale(0.66,1)" x="1445.93 1459.46 1472.99" y="404.8" font-size="16.28" fill="#2e2e2e" text-anchor="middle">411</text>
<rect x="985.2" y="387.9" width="20.4" height="22.6" fill="none" stroke="#222" stroke-width="0.9"/>
<text transform="scale(0.66,1)" x="1508.18" y="404.8" font-size="16.28" fill="#2e2e2e" text-anchor="middle">8</text>
<text transform="scale(0.66,1)" x="1381.92 1395.45 1408.98" y="604.8" font-size="16.28" fill="#2e2e2e" text-anchor="middle">224</text>
<line x1="878.1" y1="757.5" x2="878.1" y2="824" stroke="#444" stroke-width="1.3"/>
<line x1="876.6" y1="791.5" x2="876.6" y2="824" stroke="#444" stroke-width="1"/>
<line x1="840.4" y1="815.7" x2="905" y2="815.7" stroke="#222" stroke-width="0.9"/>
<polygon points="877.3,815.7 864.8,813.5 864.8,817.9" fill="#1a1a1a" stroke="none" stroke-width="0"/>
<polygon points="878.9,815.7 891.4,813.5 891.4,817.9" fill="#1a1a1a" stroke="none" stroke-width="0"/>
<text transform="scale(0.66,1)" x="1385.76" y="821.5" font-size="16.28" fill="#2e2e2e" text-anchor="middle">1</text>
<text transform="scale(0.66,1)" x="1070.31 1083.98 1097.64 1111.31 1124.98 1138.64 1152.31 1165.98 1179.64 1193.31 1206.98 1220.64 1234.31 1247.98 1261.64 1275.31 1288.98 1302.64 1316.31 1329.98 1343.64 1357.31 1370.98 1384.64" y="872" font-size="16.28" fill="#2e2e2e" text-anchor="middle">150MM DROP  30.9/31.6 OD</text>
<use href="#fh" x="493.95" y="35"/>
<use href="#sh" x="480.6" y="35"/>
<line x1="1157.1" y1="237.5" x2="1157.1" y2="492.3" stroke="#000" stroke-width="1.15"/>
<line x1="1193.3" y1="237.5" x2="1193.3" y2="492.3" stroke="#000" stroke-width="1.15"/>
<path d="M1152.9,516.3 L1152.9,883.6 Q1152.9,885.6 1154.9,885.6 L1195.5,885.6 Q1197.5,885.6 1197.5,883.6 L1197.5,516.3" fill="none" stroke="#3a3a3a" stroke-width="1.6"/>
<line x1="1153.9" y1="885.8" x2="1196.5" y2="885.8" stroke="#000" stroke-width="2.2"/>
<use href="#col" x="1175.2" y="491.8"/>
<use href="#af" x="1175.2" y="885.6"/>
<line x1="1318.3" y1="237.5" x2="1318.3" y2="492.3" stroke="#000" stroke-width="1.15"/>
<line x1="1354.5" y1="237.5" x2="1354.5" y2="492.3" stroke="#222" stroke-width="1.15"/>
<path d="M1314.1,516.3 L1314.1,883.6 Q1314.1,885.6 1316.1,885.6 L1356.7,885.6 Q1358.7,885.6 1358.7,883.6 L1358.7,516.3" fill="none" stroke="#3a3a3a" stroke-width="1.6"/>
<line x1="1315.1" y1="885.8" x2="1357.7" y2="885.8" stroke="#000" stroke-width="2.2"/>
<use href="#col" x="1336.4" y="491.8"/>
<use href="#as" x="1336.4" y="885.6"/>
<text transform="scale(0.66,1)" x="1668.92 1682.45" y="465.9" font-size="16.28" fill="#2e2e2e" text-anchor="middle">17</text>
<path d="M1120.2,460.3 L1132.4,460.3 L1132.4,491.6" fill="none" stroke="#222" stroke-width="0.9"/>
<polygon points="1132.4,491.6 1130.1,478.6 1134.7,478.6" fill="#1a1a1a" stroke="none" stroke-width="0"/>
<line x1="1123.2" y1="491.6" x2="1149.7" y2="491.6" stroke="#222" stroke-width="0.9"/>
<line x1="1123.2" y1="515.1" x2="1143.8" y2="515.1" stroke="#222" stroke-width="0.9"/>
<polygon points="1132.4,515.1 1130.1,528.1 1134.7,528.1" fill="#1a1a1a" stroke="none" stroke-width="0"/>
<line x1="1132.4" y1="515.1" x2="1132.4" y2="551.2" stroke="#222" stroke-width="0.9"/>
<circle cx="1100.9" cy="578.9" r="5.3" fill="none" stroke="#2e2e2e" stroke-width="0.9"/>
<line x1="1095.87" y1="586.85" x2="1105.94" y2="570.42" stroke="#2e2e2e" stroke-width="0.9"/>
<text transform="scale(0.66,1)" x="1690.17" y="584.3" font-size="16.28" fill="#2e2e2e" text-anchor="middle">A</text>
<line x1="1125.5" y1="578.9" x2="1152.9" y2="578.9" stroke="#222" stroke-width="0.9"/>
<polygon points="1152.6,578.9 1139.1,576.6 1139.1,581.2" fill="#1a1a1a" stroke="none" stroke-width="0"/>
<line x1="1197.5" y1="578.9" x2="1233.5" y2="578.9" stroke="#222" stroke-width="0.9"/>
<polygon points="1197.8,578.9 1211.3,576.6 1211.3,581.2" fill="#1a1a1a" stroke="none" stroke-width="0"/>
<line x1="1090.8" y1="743.3" x2="1148.3" y2="743.3" stroke="#222" stroke-width="0.9"/>
<line x1="1090.8" y1="885.4" x2="1148.3" y2="885.4" stroke="#222" stroke-width="0.9"/>
<polygon points="1099.1,743.3 1096.8,756.3 1101.4,756.3" fill="#1a1a1a" stroke="none" stroke-width="0"/>
<line x1="1099.1" y1="743.3" x2="1099.1" y2="766.4" stroke="#222" stroke-width="0.9"/>
<polygon points="1099.1,885.4 1096.8,872.4 1101.4,872.4" fill="#1a1a1a" stroke="none" stroke-width="0"/>
<line x1="1099.1" y1="840.3" x2="1099.1" y2="885.4" stroke="#222" stroke-width="0.9"/>
<text transform="scale(0.66,1)" x="1652.36 1665.89 1679.42" y="783.3" font-size="16.28" fill="#2e2e2e" text-anchor="middle">100</text>
<text transform="scale(0.66,1)" x="1626.38 1639.91 1653.44 1666.97 1680.5 1694.03 1707.56" y="800" font-size="16.28" fill="#2e2e2e" text-anchor="middle">MINIMUM</text>
<text transform="scale(0.66,1)" x="1610.82 1624.35 1637.88 1651.41 1664.94 1678.47 1692 1705.53 1719.06" y="817.1" font-size="16.28" fill="#2e2e2e" text-anchor="middle">INSERTION</text>
<text transform="scale(0.66,1)" x="1604.05 1617.58 1631.11 1644.64 1658.17 1671.71 1685.24 1698.77 1712.3 1725.83" y="834.5" font-size="16.28" fill="#2e2e2e" text-anchor="middle">INTO FRAME</text>
<text transform="scale(0.66,1)" x="1658.51 1672.04" y="911.1" font-size="16.28" fill="#2e2e2e" text-anchor="middle">28</text>
<line x1="1090" y1="925.2" x2="1182.6" y2="925.2" stroke="#222" stroke-width="1.1"/>
<polygon points="1099.3,925.2 1097,938.2 1101.6,938.2" fill="#1a1a1a" stroke="none" stroke-width="0"/>
<line x1="1099.3" y1="925.2" x2="1099.3" y2="960.5" stroke="#222" stroke-width="0.9"/>
<line x1="1379.7" y1="210.5" x2="1479.5" y2="210.5" stroke="#222" stroke-width="0.9"/>
<line x1="1363.2" y1="516.7" x2="1418.5" y2="516.7" stroke="#222" stroke-width="0.9"/>
<line x1="1363.3" y1="885.7" x2="1479.4" y2="885.7" stroke="#222" stroke-width="0.9"/>
<polygon points="1408.6,210.5 1406.3,223.5 1410.9,223.5" fill="#1a1a1a" stroke="none" stroke-width="0"/>
<polygon points="1408.6,516.7 1406.3,503.7 1410.9,503.7" fill="#1a1a1a" stroke="none" stroke-width="0"/>
<polygon points="1408.6,516.7 1406.3,529.7 1410.9,529.7" fill="#1a1a1a" stroke="none" stroke-width="0"/>
<polygon points="1408.6,885.7 1406.3,872.7 1410.9,872.7" fill="#1a1a1a" stroke="none" stroke-width="0"/>
<line x1="1408.6" y1="210.5" x2="1408.6" y2="349.7" stroke="#222" stroke-width="0.9"/>
<line x1="1408.6" y1="375.5" x2="1408.6" y2="516.7" stroke="#222" stroke-width="0.9"/>
<line x1="1408.6" y1="516.7" x2="1408.6" y2="689.5" stroke="#222" stroke-width="0.9"/>
<line x1="1408.6" y1="713.5" x2="1408.6" y2="885.6" stroke="#222" stroke-width="0.9"/>
<polygon points="1470.3,210.5 1468,223.5 1472.6,223.5" fill="#1a1a1a" stroke="none" stroke-width="0"/>
<polygon points="1470.3,885.7 1468,872.7 1472.6,872.7" fill="#1a1a1a" stroke="none" stroke-width="0"/>
<line x1="1470.3" y1="210.5" x2="1470.3" y2="463.3" stroke="#222" stroke-width="0.9"/>
<line x1="1470.3" y1="487.6" x2="1470.3" y2="885.6" stroke="#222" stroke-width="0.9"/>
<text transform="scale(0.66,1)" x="2099.42 2112.95 2126.48" y="369.7" font-size="16.28" fill="#2e2e2e" text-anchor="middle">216</text>
<rect x="1416.2" y="352.3" width="20.5" height="22.9" fill="none" stroke="#222" stroke-width="0.9"/>
<text transform="scale(0.66,1)" x="2161.29" y="369.7" font-size="16.28" fill="#2e2e2e" text-anchor="middle">8</text>
<text transform="scale(0.66,1)" x="2192.45 2205.98 2219.51" y="483" font-size="16.28" fill="#2e2e2e" text-anchor="middle">476</text>
<rect x="1477.9" y="466.4" width="20.7" height="22.2" fill="none" stroke="#222" stroke-width="0.9"/>
<text transform="scale(0.66,1)" x="2254.92" y="483" font-size="16.28" fill="#2e2e2e" text-anchor="middle">8</text>
<text transform="scale(0.66,1)" x="2121.17 2134.7 2148.23" y="707" font-size="16.28" fill="#2e2e2e" text-anchor="middle">260</text>
<line x1="1358.7" y1="885.6" x2="1358.7" y2="947.5" stroke="#444" stroke-width="1.3"/>
<line x1="1357.2" y1="919.6" x2="1357.2" y2="947.5" stroke="#444" stroke-width="1"/>
<line x1="1321.4" y1="939.1" x2="1381.6" y2="939.1" stroke="#222" stroke-width="0.9"/>
<polygon points="1357.9,939.1 1345.4,936.9 1345.4,941.3" fill="#1a1a1a" stroke="none" stroke-width="0"/>
<polygon points="1359.5,939.1 1372,936.9 1372,941.3" fill="#1a1a1a" stroke="none" stroke-width="0"/>
<text transform="scale(0.66,1)" x="2109.09" y="944.5" font-size="16.28" fill="#2e2e2e" text-anchor="middle">1</text>
<text transform="scale(0.66,1)" x="1797.43 1811.1 1824.76 1838.43 1852.1 1865.76 1879.43 1893.1 1906.76 1920.43 1934.1 1947.76 1961.43 1975.1 1988.76 2002.43 2016.1 2029.76 2043.43 2057.1 2070.76 2084.43 2098.1 2111.76" y="971.8" font-size="16.28" fill="#2e2e2e" text-anchor="middle">180MM DROP  30.9/31.6 OD</text>
<rect x="127" y="235.6" width="20.6" height="22.9" fill="none" stroke="#222" stroke-width="0.9"/>
<text transform="scale(0.66,1)" x="208.03" y="252.7" font-size="16.28" fill="#2e2e2e" text-anchor="middle">2</text>
<path d="M147.6,247 L164.8,247 L186.3,191.8" fill="none" stroke="#111" stroke-width="1.1"/>
<polygon points="186.5,191.2 184.84,202.36 180.18,200.55" fill="#1a1a1a" stroke="none" stroke-width="0"/>
<rect x="288.3" y="251.2" width="20.5" height="22.7" fill="none" stroke="#222" stroke-width="0.9"/>
<text transform="scale(0.66,1)" x="452.27" y="268.2" font-size="16.28" fill="#2e2e2e" text-anchor="middle">3</text>
<path d="M308.8,262.3 L326.7,262.3 L329.6,207" fill="none" stroke="#111" stroke-width="1.1"/>
<polygon points="329.7,205.4 331.62,216.52 326.62,216.25" fill="#1a1a1a" stroke="none" stroke-width="0"/>
<path d="M326.7,262.3 L398.5,192" fill="none" stroke="#111" stroke-width="1.2"/>
<polygon points="399.4,191.1 393.29,200.58 389.79,197.01" fill="#1a1a1a" stroke="none" stroke-width="0"/>
<text x="45.2" y="827.3" font-size="12.9" fill="#000" stroke="#000" stroke-width="0.25" textLength="200.8" lengthAdjust="spacingAndGlyphs" style="white-space:pre">NOTES:  UNLESS  OTHERWISE  SPECIFIED</text>
<text transform="scale(0.7,1)" x="69.4 79.27 89.13 98.99 108.86 118.72 128.59 138.45 148.32 158.18 168.04 177.91 187.77 197.64 207.5 217.37 227.23 237.09 246.96 256.82 266.69 276.55 286.42 296.28" y="853" font-size="12.94" fill="#1a1a1a" text-anchor="middle">1. DRAWING NOT TO SCALE.</text>
<text transform="scale(0.7,1)" x="99.84 109.7 119.57 129.43 139.29 149.16 159.02 168.89 178.75 188.62 198.48 208.34 218.21 228.07 237.94 247.8 257.67 267.53 277.39 287.26 297.12 306.99 316.85 326.72 336.58 346.44 356.31 366.17 376.04 385.9 395.77 405.63 415.49 425.36 435.22 445.09 454.95 464.82 474.68 484.54 494.41 504.27 514.14 524 533.87 543.73 553.59 563.46 573.32 583.19 593.05 602.92 612.78 622.64 632.51 642.37 652.24 662.1 671.97 681.83 691.69 701.56 711.42 721.29 731.15 741.02 750.88 760.74" y="865.7" font-size="12.94" fill="#1a1a1a" text-anchor="middle">FOX RESERVES THE RIGHT TO CHANGE SPECIFICATION WITHOUT PRIOR NOTICE.</text>
<rect x="45.7" y="881.5" width="15.9" height="16.9" fill="none" stroke="#222" stroke-width="0.9"/>
<text transform="scale(0.7,1)" x="76.71" y="894.4" font-size="12.94" fill="#1a1a1a" text-anchor="middle">2</text>
<text transform="scale(0.7,1)" x="102.27 112.13 121.99 131.86 141.72 151.59 161.45 171.32 181.18 191.04 200.91 210.77 220.64 230.5 240.37 250.23 260.09 269.96 279.82 289.69 299.55 309.42 319.28 329.14 339.01 348.87 358.74" y="894.6" font-size="12.94" fill="#1a1a1a" text-anchor="middle">SADDLE RAIL COMPATIBILITY: </text>
<circle cx="259.51" cy="890.2" r="3.7" fill="none" stroke="#1a1a1a" stroke-width="0.8"/>
<line x1="256" y1="895.75" x2="263.02" y2="884.28" stroke="#1a1a1a" stroke-width="0.8"/>
<text transform="scale(0.7,1)" x="385.57 395.43 405.29 415.16 425.02 434.89 444.75 454.62 464.48 474.34 484.21 494.07 503.94 513.8 523.67 533.53 543.39 553.26 563.12 572.99 582.85 592.72 602.58 612.44 622.31 632.17 642.04 651.9 661.77 671.63 681.49 691.36 701.22 711.09 720.95 730.82 740.68 750.54 760.41 770.27 780.14 790 799.87 809.73 819.59 829.46" y="894.6" font-size="12.94" fill="#1a1a1a" text-anchor="middle">7MM, 7MM X 9MM OBROUND, OR 7MM X 10MM OBROUND.</text>
<text transform="scale(0.7,1)" x="99.84 109.7 119.57 129.43 139.29 149.16 159.02 168.89 178.75 188.62 198.48 208.34 218.21 228.07 237.94 247.8 257.67 267.53 277.39 287.26" y="909.8" font-size="12.94" fill="#1a1a1a" text-anchor="middle">NOT COMPATIBLE WITH </text>
<circle cx="209.3" cy="905.4" r="3.7" fill="none" stroke="#1a1a1a" stroke-width="0.8"/>
<line x1="205.79" y1="910.95" x2="212.81" y2="899.48" stroke="#1a1a1a" stroke-width="0.8"/>
<text transform="scale(0.7,1)" x="313.84 323.7 333.57 343.43 353.29 363.16 373.02 382.89 392.75 402.62 412.48 422.34 432.21 442.07 451.94 461.8 471.67" y="909.8" font-size="12.94" fill="#1a1a1a" text-anchor="middle">8MM SADDLE RAILS.</text>
<rect x="45.7" y="923.7" width="15.9" height="17.7" fill="none" stroke="#222" stroke-width="0.9"/>
<text transform="scale(0.7,1)" x="76.71" y="937" font-size="12.94" fill="#1a1a1a" text-anchor="middle">3</text>
<text transform="scale(0.7,1)" x="102.27 112.13 121.99 131.86 141.72 151.59 161.45 171.32 181.18 191.04 200.91 210.77 220.64 230.5 240.37 250.23 260.09 269.96 279.82 289.69 299.55 309.42 319.28 329.14 339.01 348.87 358.74 368.6 378.47 388.33 398.19 408.06 417.92 427.79 437.65 447.52 457.38 467.24 477.11 486.97 496.84 506.7 516.57 526.43 536.29" y="937.6" font-size="12.94" fill="#1a1a1a" text-anchor="middle">SADDLE CLAMP BOLT TORQUE:45 IN-LBF [5,1 N-M].</text>
<text transform="scale(0.7,1)" x="99.84 109.7 119.57 129.43 139.29 149.16 159.02 168.89 178.75 188.62 198.48 208.34 218.21 228.07 237.94 247.8 257.67 267.53 277.39 287.26 297.12 306.99 316.85 326.72 336.58 346.44 356.31 366.17 376.04 385.9 395.77 405.63 415.49 425.36 435.22 445.09 454.95 464.82 474.68 484.54 494.41 504.27 514.14 524 533.87 543.73 553.59 563.46 573.32 583.19 593.05 602.92 612.78 622.64 632.51 642.37 652.24 662.1 671.97 681.83 691.69 701.56 711.42 721.29 731.15 741.02" y="952.2" font-size="12.94" fill="#1a1a1a" text-anchor="middle">TAKE CARE TO NOT SCRATCH UPPER POST OUTER DIAMETER DURING INSTALL.</text>
<text transform="scale(0.7,1)" x="70.98 80.84 90.71 100.57 110.44 120.3 130.17 140.03 149.89 159.76 169.62 179.49 189.35 199.22 209.08 218.94 228.81 238.67 248.54 258.4 268.27 278.13 287.99 297.86 307.72 317.59 327.45 337.32 347.18 357.04 366.91 376.77 386.64 396.5 406.37 416.23 426.09 435.96 445.82 455.69 465.55 475.42 485.28 495.14 505.01 514.87 524.74 534.6 544.47 554.33 564.19 574.06 583.92 593.79 603.65 613.52 623.38 633.24 643.11 652.97 662.84" y="978.2" font-size="12.94" fill="#1a1a1a" text-anchor="middle">4. SEATPOST CLAMP BINDER BOLT TORQUE 45 IN-LBF [5,1 N-M] MAX.</text>
<text transform="scale(0.7,1)" x="99.84 109.7 119.57 129.43 139.29 149.16 159.02 168.89 178.75 188.62 198.48 208.34 218.21 228.07 237.94 247.8 257.67 267.53 277.39 287.26 297.12 306.99 316.85 326.72 336.58 346.44 356.31 366.17 376.04 385.9 395.77 405.63 415.49 425.36 435.22 445.09 454.95 464.82 474.68 484.54 494.41 504.27 514.14 524 533.87 543.73 553.59 563.46 573.32 583.19 593.05 602.92 612.78 622.64 632.51 642.37 652.24 662.1 671.97 681.83 691.69 701.56 711.42 721.29 731.15 741.02 750.88 760.74 770.61 780.47 790.34 800.2 810.07 819.93 829.79 839.66 849.52 859.39 869.25 879.12 888.98 898.84 908.71 918.57 928.44 938.3 948.17 958.03 967.89 977.76 987.62 997.49 1007.35 1017.22 1027.08 1036.94 1046.81 1056.67 1066.54 1076.4 1086.27 1096.13 1105.99 1115.86 1125.72 1135.59 1145.45 1155.32" y="991" font-size="12.94" fill="#1a1a1a" text-anchor="middle">REQUIRED SEATPOST CLAMP BINDER BOLT TORQUE WILL VARY WITH SEATPOST CLAMP AND FRAME AND MAY BE LESS THAN MAX.</text>
<text transform="scale(0.7,1)" x="99.84 109.7 119.57 129.43 139.29 149.16 159.02 168.89 178.75 188.62 198.48 208.34 218.21 228.07 237.94 247.8 257.67 267.53 277.39 287.26 297.12 306.99 316.85 326.72 336.58 346.44 356.31 366.17 376.04 385.9 395.77 405.63 415.49 425.36 435.22 445.09 454.95 464.82 474.68 484.54 494.41 504.27 514.14 524 533.87 543.73 553.59 563.46 573.32 583.19 593.05 602.92 612.78 622.64 632.51 642.37 652.24 662.1 671.97 681.83 691.69 701.56 711.42 721.29 731.15 741.02 750.88 760.74 770.61 780.47 790.34 800.2 810.07 819.93 829.79 839.66 849.52 859.39 869.25 879.12 888.98 898.84 908.71 918.57 928.44 938.3 948.17 958.03 967.89 977.76 987.62 997.49" y="1004" font-size="12.94" fill="#1a1a1a" text-anchor="middle">NOTE: EXCESSIVE SEAT TUBE COLLAR BINDER BOLT TIGHTNESS CAN CAUSE THE UPPER SEAT POST TO BIND</text>
<text transform="scale(0.7,1)" x="99.84 109.7 119.57 129.43 139.29 149.16 159.02 168.89 178.75 188.62 198.48 208.34 218.21 228.07 237.94 247.8 257.67 267.53 277.39 287.26 297.12 306.99 316.85 326.72 336.58 346.44 356.31" y="1016.8" font-size="12.94" fill="#1a1a1a" text-anchor="middle">WITHIN THE LOWER SEAT POST.</text>
<text transform="scale(0.7,1)" x="70.98 80.84 90.71 100.57 110.44 120.3 130.17 140.03 149.89 159.76 169.62 179.49 189.35 199.22 209.08 218.94 228.81 238.67 248.54 258.4 268.27 278.13 287.99 297.86 307.72 317.59 327.45 337.32 347.18 357.04 366.91 376.77 386.64 396.5 406.37 416.23 426.09 435.96 445.82 455.69 465.55 475.42 485.28 495.14 505.01 514.87 524.74 534.6 544.47 554.33 564.19 574.06 583.92 593.79 603.65 613.52 623.38 633.24 643.11 652.97 662.84 672.7 682.57 692.43 702.29 712.16 722.02 731.89" y="1042.8" font-size="12.94" fill="#1a1a1a" text-anchor="middle">5. CABLE, HOUSING, AND HOUSING END CAPS NOT INCLUDED WITH OE ORDERS.</text>
<text transform="scale(0.7,1)" x="70.98 80.84 90.71 100.57 110.44 120.3 130.17 140.03 149.89 159.76 169.62 179.49 189.35 199.22 209.08 218.94 228.81 238.67 248.54 258.4 268.27 278.13 287.99 297.86 307.72 317.59 327.45 337.32 347.18 357.04 366.91 376.77 386.64 396.5 406.37 416.23 426.09 435.96 445.82 455.69 465.55 475.42 485.28 495.14 505.01 514.87 524.74 534.6 544.47 554.33 564.19 574.06" y="1068.6" font-size="12.94" fill="#1a1a1a" text-anchor="middle">6. AIR PRESSURE CHARGING RANGE : 275 PSI TO 325 PSI.</text>
<text transform="scale(0.7,1)" x="70.98 80.84 90.71 100.57 110.44 120.3 130.17 140.03 149.89 159.76 169.62 179.49 189.35 199.22 209.08 218.94 228.81 238.67 248.54 258.4 268.27 278.13 287.99 297.86 307.72 317.59 327.45 337.32 347.18 357.04 366.91 376.77 386.64 396.5 406.37 416.23 426.09 435.96 445.82 455.69 465.55 475.42 485.28 495.14 505.01 514.87 524.74 534.6 544.47 554.33 564.19 574.06 583.92 593.79 603.65 613.52 623.38 633.24 643.11 652.97 662.84 672.7 682.57 692.43 702.29 712.16" y="1094.3" font-size="12.94" fill="#1a1a1a" text-anchor="middle">7. THOROUGHLY REVIEW OWNER'S MANUAL PRIOR TO INSTALLATION AND USE.</text>
<rect x="45.7" y="1109.5" width="15.9" height="17.7" fill="none" stroke="#222" stroke-width="0.9"/>
<text transform="scale(0.7,1)" x="76.71" y="1122.6" font-size="12.94" fill="#1a1a1a" text-anchor="middle">8</text>
<text transform="scale(0.7,1)" x="102.27 112.13 121.99 131.86 141.72 151.59 161.45 171.32 181.18 191.04 200.91 210.77 220.64 230.5 240.37 250.23 260.09 269.96 279.82 289.69 299.55 309.42 319.28 329.14 339.01 348.87 358.74 368.6 378.47 388.33 398.19 408.06 417.92 427.79 437.65 447.52 457.38 467.24 477.11 486.97 496.84 506.7 516.57 526.43 536.29 546.16 556.02 565.89 575.75 585.62 595.48 605.34 615.21 625.07 634.94 644.8 654.67 664.53 674.39 684.26 694.12 703.99 713.85 723.72 733.58 743.44 753.31 763.17 773.04 782.9" y="1122.9" font-size="12.94" fill="#1a1a1a" text-anchor="middle">TRAVEL AND TOTAL LENGTH ADJUSTABLE UP TO -25 MM IN INCREMENTS OF 5 MM.</text>
<text transform="scale(0.7,1)" x="70.98 80.84 90.71 100.57 110.44 120.3 130.17 140.03 149.89 159.76 169.62 179.49 189.35 199.22 209.08 218.94 228.81 238.67 248.54 258.4 268.27 278.13 287.99 297.86 307.72 317.59 327.45 337.32 347.18 357.04 366.91 376.77 386.64 396.5 406.37 416.23 426.09 435.96 445.82 455.69 465.55 475.42 485.28 495.14 505.01 514.87 524.74 534.6 544.47 554.33 564.19 574.06 583.92 593.79 603.65 613.52 623.38 633.24 643.11 652.97 662.84 672.7 682.57 692.43 702.29 712.16 722.02 731.89 741.75 751.62 761.48 771.34 781.21 791.07 800.94 810.8 820.67 830.53 840.39 850.26 860.12 869.99 879.85 889.72 899.58 909.44 919.31 929.17 939.04 948.9 958.77 968.63 978.49 988.36 998.22 1008.09 1017.95 1027.82 1037.68 1047.54" y="1150.7" font-size="12.94" fill="#1a1a1a" text-anchor="middle">9. ON CARBON FIBER FRAMES, APPLY A THIN LAYER OF CARBON ASSEMBLY PASTE TO PREVENT SEATPOST SLIPPAGE.</text>
<line x1="1227.6" y1="1030.2" x2="1549.2" y2="1030.2" stroke="#2a2a2a" stroke-width="1.2"/>
<line x1="1227.6" y1="1030.2" x2="1227.6" y2="1162.2" stroke="#2a2a2a" stroke-width="1.2"/>
<line x1="1227.6" y1="1069.7" x2="1549.2" y2="1069.7" stroke="#2a2a2a" stroke-width="1.2"/>
<line x1="1227.6" y1="1115.6" x2="1549.2" y2="1115.6" stroke="#2a2a2a" stroke-width="1.2"/>
<line x1="1227.6" y1="1144" x2="1549.2" y2="1144" stroke="#2a2a2a" stroke-width="1.2"/>
<line x1="1257.5" y1="1115.6" x2="1257.5" y2="1144" stroke="#2a2a2a" stroke-width="1.1"/>
<line x1="1319.4" y1="1115.6" x2="1319.4" y2="1144" stroke="#2a2a2a" stroke-width="1.1"/>
<line x1="1342.3" y1="1144" x2="1342.3" y2="1162.2" stroke="#2a2a2a" stroke-width="1.1"/>
<line x1="1444" y1="1144" x2="1444" y2="1162.2" stroke="#2a2a2a" stroke-width="1.1"/>
<text x="1306.9" y="1050.6" font-size="16.8" fill="#000" stroke="#000" stroke-width="0.3" textLength="167.5" lengthAdjust="spacingAndGlyphs" style="white-space:pre">FOX  Factory,  Inc.</text>
<text transform="scale(0.74,1)" x="1667.84 1673.26 1678.68 1684.11 1689.53 1694.95 1700.37 1705.79 1711.21 1716.64 1722.06 1727.48 1732.9 1738.32 1743.74 1749.17 1754.59 1760.01 1765.43 1770.85 1776.27 1781.7 1787.12 1792.54 1797.96 1803.38 1808.8 1814.22 1819.65 1825.07 1830.49 1835.91 1841.33 1846.75 1852.18 1857.6 1863.02 1868.44 1873.86 1879.28 1884.71 1890.13 1895.55 1900.97 1906.39 1911.81 1917.24 1922.66 1928.08 1933.5 1938.92 1944.34 1949.77 1955.19 1960.61 1966.03 1971.45 1976.87 1982.3 1987.72 1993.14 1998.56 2003.98 2009.4 2014.82 2020.25 2025.67 2031.09 2036.51 2041.93 2047.35 2052.78 2058.2 2063.62 2069.04 2074.46" y="1066" font-size="7.85" fill="#111" text-anchor="middle" stroke="#111" stroke-width="0.2">130 Hangar Way, Watsonville, CA 95076 USA, Ph 831-768-1100, Fax 831-768-9312</text>
<text transform="scale(0.66,1)" x="1920.65 1935.92 1951.2 1966.47 1981.74 1997.01 2012.29 2027.56 2042.83 2058.1 2073.38 2088.65 2103.92 2119.2 2134.47 2149.74 2165.01 2180.29 2195.56 2210.83 2226.1 2241.38 2256.65 2271.92 2287.2" y="1099.3" font-size="18.75" fill="#3a3a3a" text-anchor="middle">USER SPEC: 2025, TRANSFER</text>
<text transform="scale(0.8,1)" x="1547.02 1554.02 1561.02 1568.02" y="1124.7" font-size="8.72" fill="#222" text-anchor="middle">SIZE</text>
<text transform="scale(0.66,1)" x="1882.58" y="1140.7" font-size="18.17" fill="#333" text-anchor="middle">C</text>
<text transform="scale(0.8,1)" x="1657.19 1664.31 1671.44 1678.56 1685.69 1692.81 1699.94 1707.07" y="1124.7" font-size="8.72" fill="#222" text-anchor="middle">PART NO.</text>
<text transform="scale(0.74,1)" x="1669.31 1678.27 1687.23 1696.18 1705.14 1714.1 1723.06 1732.02 1740.98 1749.94 1758.9 1767.86 1776.82 1785.78 1794.74 1803.7" y="1157.2" font-size="10.9" fill="#222" text-anchor="middle">PLOT SCALE   1:2</text>
<text transform="scale(0.74,1)" x="1962.35 1971.14 1979.92 1988.7 1997.49 2006.27 2015.05 2023.84 2032.62 2041.41 2050.19 2058.97" y="1157.2" font-size="10.9" fill="#222" text-anchor="middle">SHEET 1 OF 4</text>
<g transform="translate(1240,1030) scale(0.050505)" fill="#fff" stroke="#000" stroke-linejoin="round">
<path d="M520,365 Q560,520 720,545 Q870,540 950,440 L900,430 L935,405 L885,395 L925,370 L880,360 L930,335 L1000,330 Q1100,370 1170,440 Q1060,400 960,400" stroke-width="24" fill="none"/>
<path d="M270,100 L600,100 L572,172 L432,172 L418,212 L492,212 L466,280 L392,280 L356,380 L185,380 Z" stroke-width="36"/>
<path d="M600,130 Q660,85 760,100 Q860,115 850,220 Q835,330 740,375 Q600,400 520,360 Q470,300 510,210 Q540,150 600,130 Z" stroke-width="34"/>
<path d="M650,185 Q700,150 722,188 Q735,260 700,330 Q660,350 645,300 Q630,230 650,185 Z" stroke-width="28"/>
<path d="M860,100 L985,100 L1005,165 L1065,100 L1160,100 L1030,245 L1050,320 L940,330 L925,290 L880,340 L780,375 L905,225 Z" stroke-width="34"/>
</g>
</svg></body></html>
